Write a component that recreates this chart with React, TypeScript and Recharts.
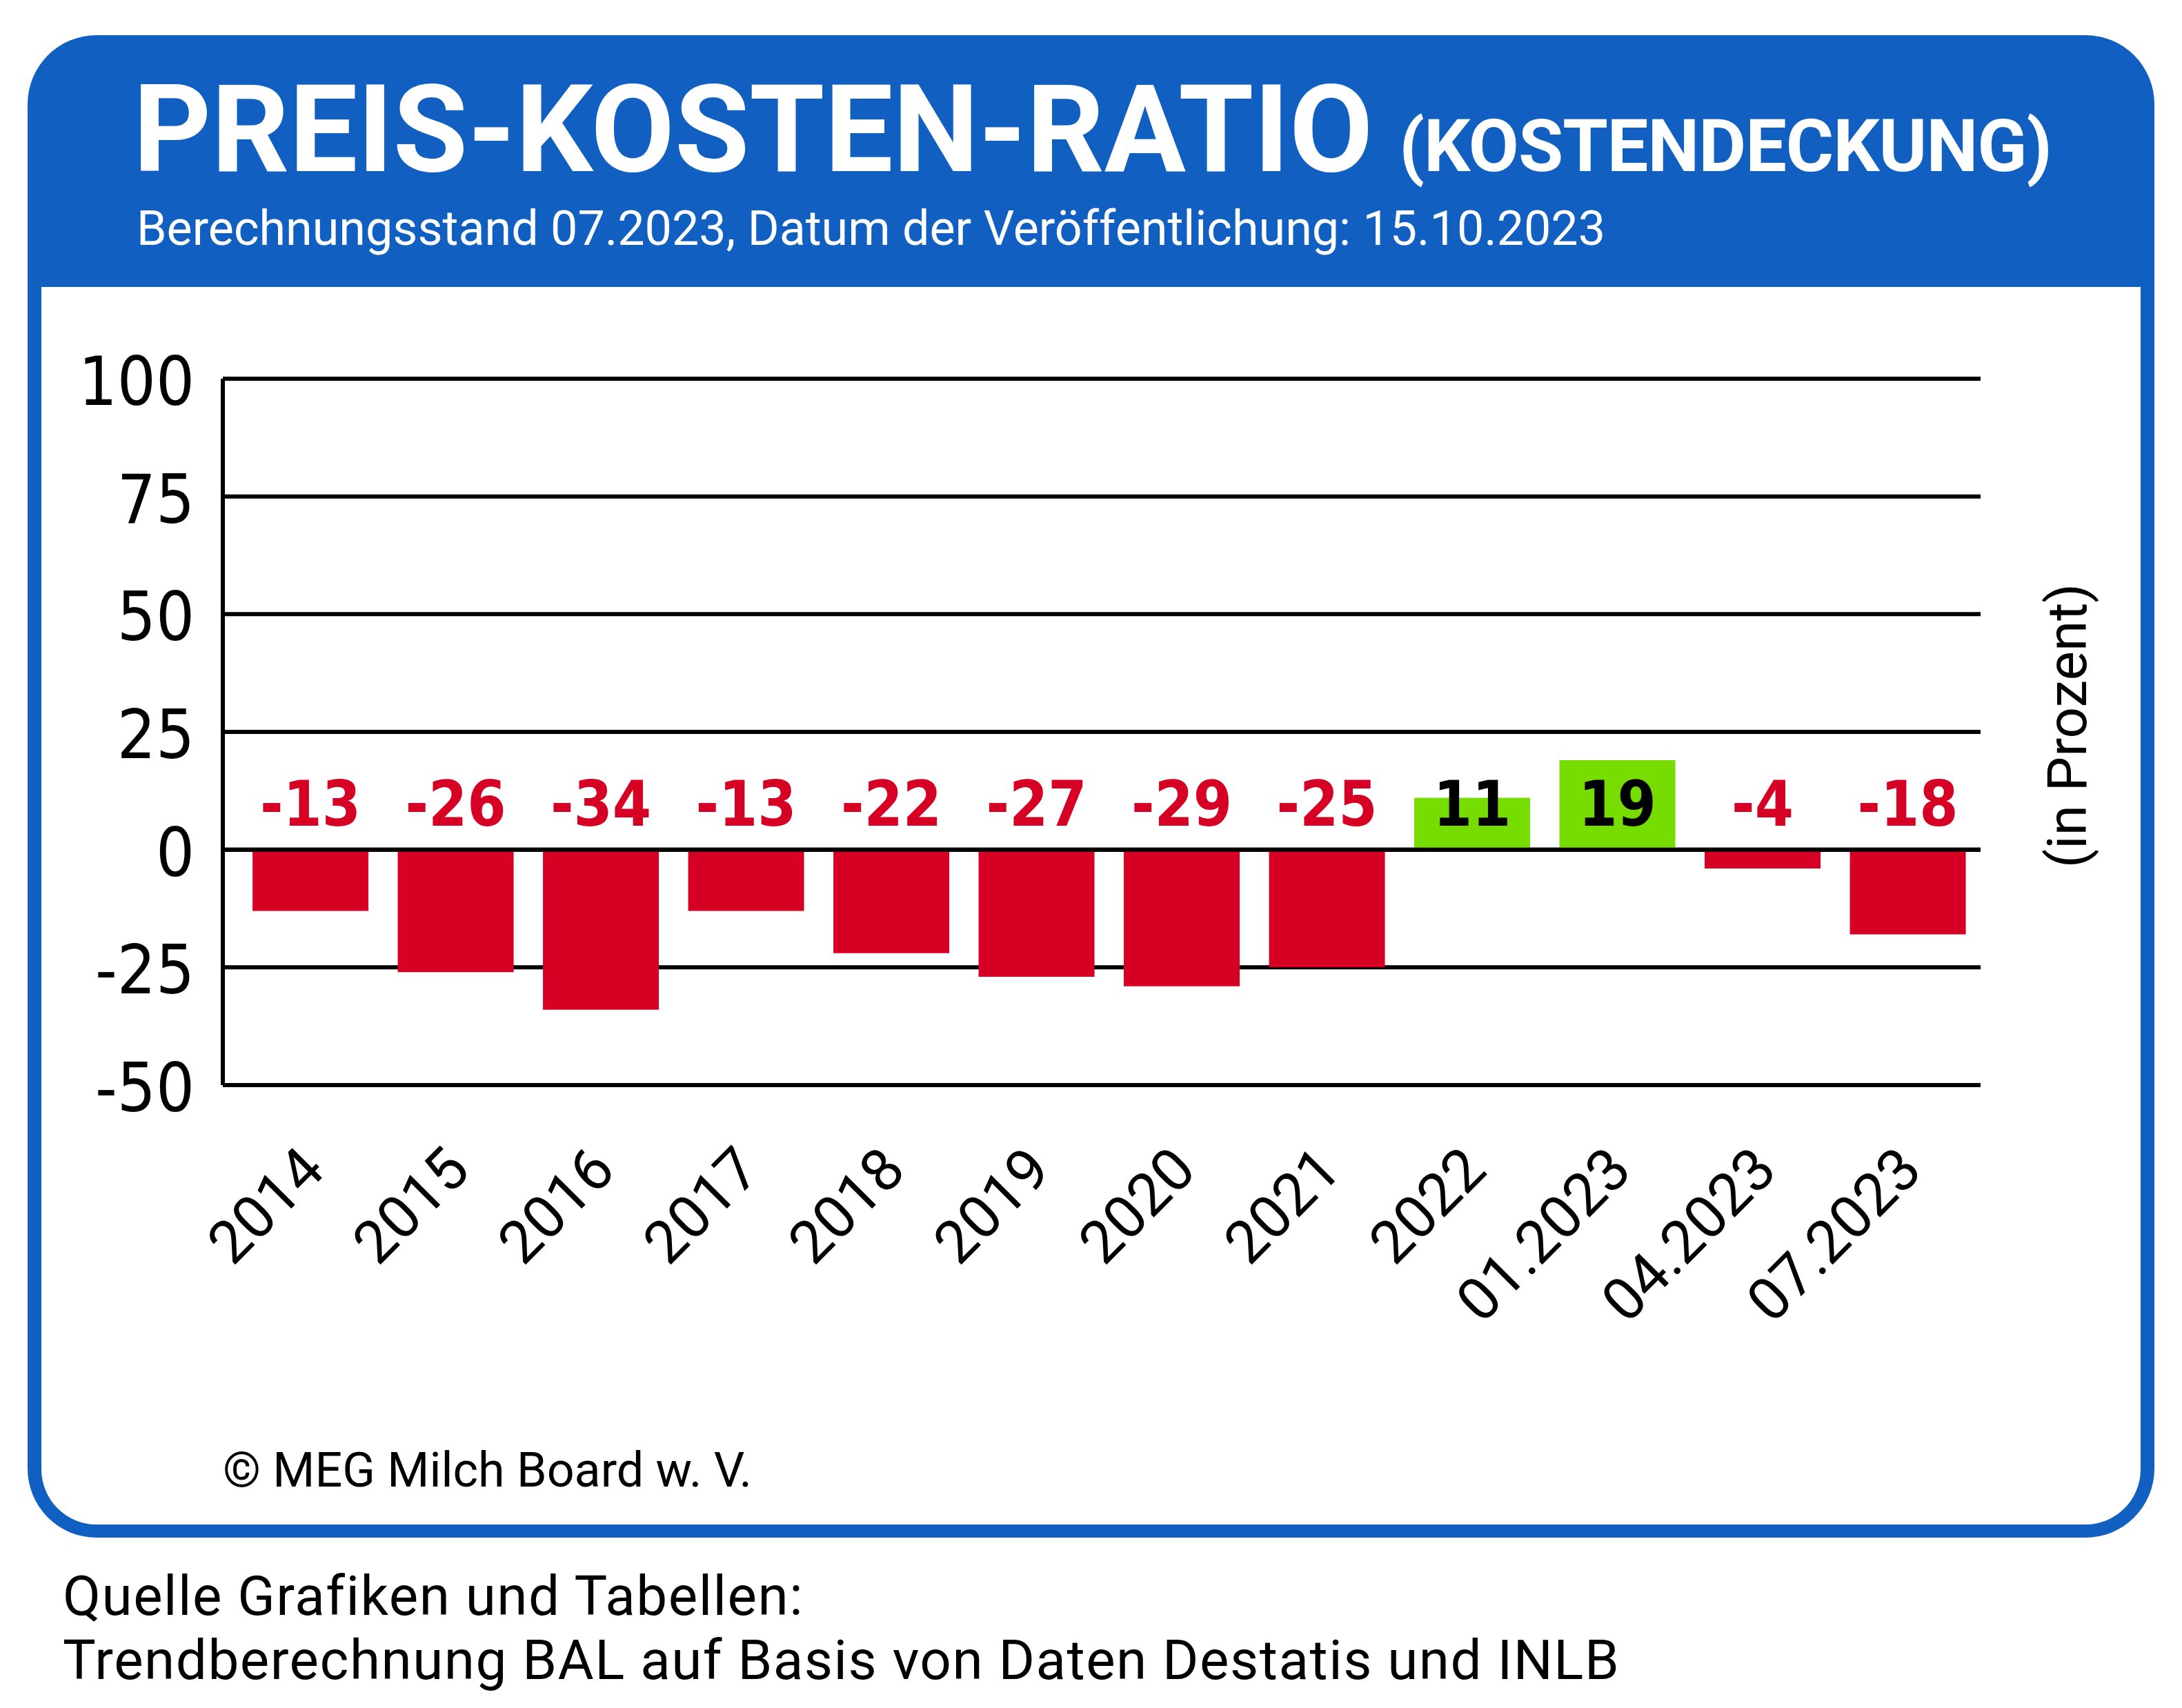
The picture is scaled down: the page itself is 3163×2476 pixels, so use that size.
// Preis-Kosten-Ratio (Kostendeckung) — bar chart with header box

import { BarChart, Bar, XAxis, YAxis, CartesianGrid, Cell, LabelList, ReferenceLine } from 'recharts';

const categories = ['2014', '2015', '2016', '2017', '2018', '2019', '2020', '2021', '2022', '01.2023', '04.2023', '07.2023'];
const ratioValues = [-13, -26, -34, -13, -22, -27, -29, -25, 11, 19, -4, -18];
const yTicks = [-50, -25, 0, 25, 50, 75, 100];

const BLUE = '#1160C1';
const RED = '#D60024';
const GREEN = '#77DD00';
const NARROW = "'Liberation Sans Narrow', 'DejaVu Sans Condensed', Roboto, sans-serif";

const data = categories.map((period, i) => ({ period, ratio: ratioValues[i] }));

function XTick(props: any) {
  const { x, y, payload } = props;
  const px = x + 24;
  const py = y + 127;
  return (
    <text x={px} y={py} transform={`rotate(-45, ${px}, ${py})`} textAnchor="end"
      fontFamily="Roboto, sans-serif" fontSize={86} fill="#000">
      {payload.value}
    </text>
  );
}

function YTick(props: any) {
  const { x, y, payload } = props;
  return (
    <text x={x} y={y} dy={38} textAnchor="end" fontFamily={NARROW} fontSize={98} fill="#000">
      {String(payload.value)}
    </text>
  );
}

function ValueLabel(props: any) {
  const { x, y, width, height, value } = props;
  // label sits just above the zero line whatever the sign
  const zeroY = value < 0 ? Math.min(y, y + height) : Math.max(y, y + height);
  return (
    <text x={x + width / 2} y={zeroY - 35} textAnchor="middle" fontFamily={NARROW}
      fontWeight={700} fontSize={90} fill={value < 0 ? RED : '#000'}>
      {String(value)}
    </text>
  );
}

export default function App() {
  return (
    <div style={{ position: 'relative', width: 3163, height: 2476, overflow: 'hidden', background: '#fff' }}>
      <style>{'body{margin:0}'}</style>
      {/* blue frame + white panel */}
      <div style={{ position: 'absolute', left: 40, top: 51, width: 3083, height: 2178, background: BLUE, borderRadius: 100 }} />
      <div style={{ position: 'absolute', left: 60, top: 416, width: 3043, height: 1794, background: '#fff', borderRadius: '0 0 80px 80px' }} />

      <svg width={3163} height={2476} style={{ position: 'absolute', left: 0, top: 0 }}>
        <text x={193} y={248} fontFamily="Roboto, sans-serif" fontWeight={700} fontSize={176} fill="#fff">
          PREIS-KOSTEN-RATIO
        </text>
        <text x={2028} y={248} fontFamily="Roboto, sans-serif" fontWeight={700} fontSize={106} letterSpacing={-1} fill="#fff">
          (KOSTENDECKUNG)
        </text>
        <text x={198} y={355} fontFamily="Roboto, sans-serif" fontSize={70} fill="#fff">
          Berechnungsstand 07.2023, Datum der Veröffentlichung: 15.10.2023
        </text>
        <text x={3024} y={1052} transform="rotate(-90, 3024, 1052)" textAnchor="middle"
          fontFamily="Roboto, sans-serif" fontSize={80} fill="#000">
          (in Prozent)
        </text>
        <text x={323} y={2155} fontFamily="Roboto, sans-serif" fontSize={70} fill="#000">
          © MEG Milch Board w. V.
        </text>
        <text x={91} y={2341} fontFamily="Roboto, sans-serif" fontSize={80} letterSpacing={1.5} fill="#000">
          Quelle Grafiken und Tabellen:
        </text>
        <text x={91} y={2434} fontFamily="Roboto, sans-serif" fontSize={80} letterSpacing={1.5} fill="#000">
          Trendberechnung BAL auf Basis von Daten Destatis und INLB
        </text>
      </svg>

      <div style={{ position: 'absolute', left: 0, top: 0 }}>
        <BarChart
          width={3163}
          height={2476}
          data={data}
          margin={{ top: 549, right: 292, left: 0, bottom: 703 }}
          barCategoryGap="10%"
        >
          <CartesianGrid vertical={false} stroke="#000" strokeWidth={6} />
          <XAxis
            dataKey="period"
            axisLine={false}
            tickLine={false}
            tickSize={0}
            tickMargin={0}
            height={200}
            interval={0}
            padding={{ left: 22, right: 0 }}
            tick={(p: any) => <XTick {...p} />}
          />
          <YAxis
            type="number"
            domain={[-50, 100]}
            ticks={yTicks}
            interval={0}
            width={323}
            axisLine={{ stroke: '#000', strokeWidth: 6 }}
            tickLine={false}
            tickSize={0}
            tickMargin={41}
            tick={(p: any) => <YTick {...p} />}
          />
          <Bar dataKey="ratio" isAnimationActive={false}>
            {data.map((d, i) => (
              <Cell key={`c-${i}`} fill={d.ratio < 0 ? RED : GREEN} />
            ))}
            <LabelList dataKey="ratio" content={(p: any) => <ValueLabel {...p} />} />
          </Bar>
          <ReferenceLine y={0} stroke="#000" strokeWidth={6} />
        </BarChart>
      </div>
    </div>
  );
}
